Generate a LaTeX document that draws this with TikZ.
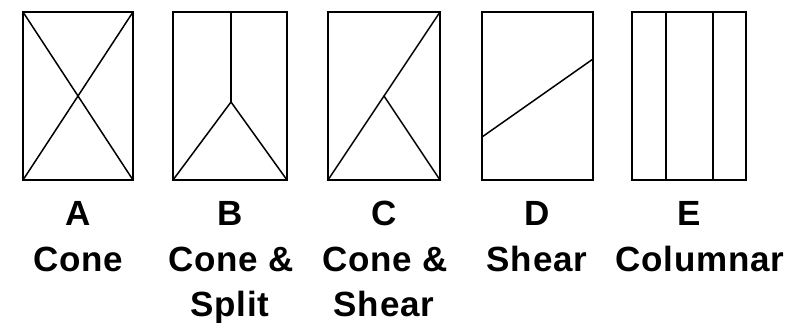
\documentclass[tikz,border=0pt]{standalone}
\usepackage{fontspec}
\setmainfont{Liberation Sans}
\newfontfamily\lblfont[LetterSpace=2]{Liberation Sans}
\begin{document}
\begin{tikzpicture}[x=1pt,y=-1pt,
  frame/.style={draw=black,line width=1.7pt},
  crack/.style={draw=black,line width=1.5pt,line cap=round},
  lbl/.style={anchor=base,inner sep=0pt,font=\lblfont\fontsize{35}{40}\selectfont\bfseries}]
\useasboundingbox (0,0) rectangle (812,322);
% Box A: Cone
\draw[frame] (23,12) rectangle (133,180);
\draw[crack] (23,12) -- (133,180);
\draw[crack] (133,12) -- (23,180);
% Box B: Cone & Split
\draw[frame] (173,12) rectangle (287,180);
\coordinate (bapex) at (231,102);
\draw[crack] (231,12) -- (bapex);
\draw[crack] (173,180) -- (bapex) -- (287,180);
% Box C: Cone & Shear
\draw[frame] (328,12) rectangle (440,180);
\coordinate (cbr) at (384,96);
\draw[crack] (328,180) -- (440,12);
\draw[crack] (cbr) -- (440,180);
% Box D: Shear
\draw[frame] (482,12) rectangle (593,180);
\draw[crack] (482,137) -- (593,59);
% Box E: Columnar
\draw[frame] (632,12) rectangle (746,180);
\draw[crack] (666,12) -- (666,180);
\draw[crack] (713,12) -- (713,180);
% Labels
\node[lbl] (la1) at (78,225) {A};
\node[lbl] (la2) at (78,271) {Cone};
\node[lbl] (lb1) at (230,225) {B};
\node[lbl] (lb2) at (231,271) {Cone \&};
\node[lbl] (lb3) at (230,316) {Split};
\node[lbl] (lc1) at (384,225) {C};
\node[lbl] (lc2) at (385,271) {Cone \&};
\node[lbl] (lc3) at (384,316) {Shear};
\node[lbl] (ld1) at (537,225) {D};
\node[lbl] (ld2) at (537,271) {Shear};
\node[lbl] (le1) at (689,225) {E};
\node[lbl] (le2) at (700,271) {Columnar};
\end{tikzpicture}
\end{document}
